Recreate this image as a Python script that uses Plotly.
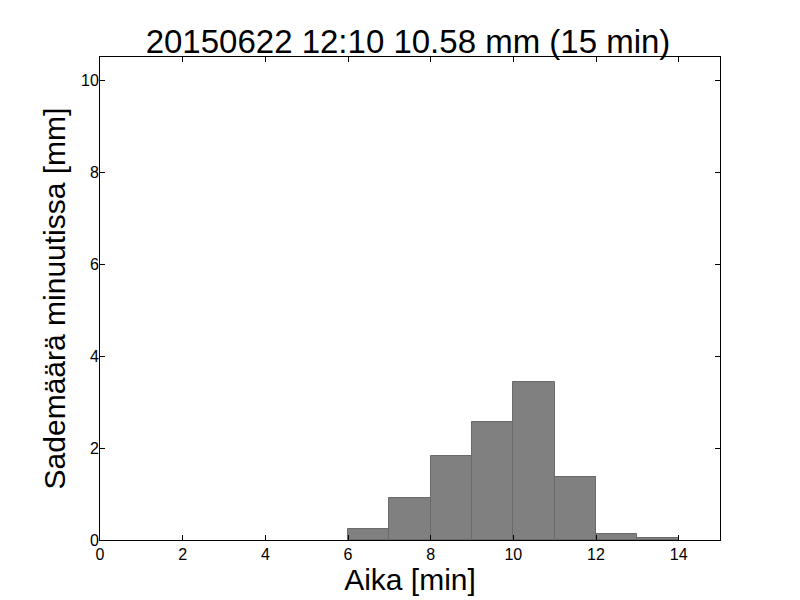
import plotly.graph_objects as go

# ──────────  DATA  ──────────
minute_start = [6, 7, 8, 9, 10, 11, 12, 13]
rain_mm      = [0.24, 0.92, 1.83, 2.57, 3.44, 1.38, 0.13, 0.05]
x_ticks      = [0, 2, 4, 6, 8, 10, 12, 14]
y_ticks      = [0, 2, 4, 6, 8, 10]

TITLE = "20150622 12:10 10.58 mm (15 min)"
FONT  = "Liberation Sans, Arial, sans-serif"

fig = go.Figure(go.Bar(
    x=minute_start, y=rain_mm, width=1, offset=0,
    marker=dict(color="#808080", line=dict(color="#6a6a6a", width=1)),
))

axis_style = dict(
    showline=True, linecolor="black", linewidth=1, mirror="ticks",
    ticks="inside", ticklen=5, tickcolor="black",
    showgrid=False, zeroline=False,
    tickfont=dict(size=16, color="black", family=FONT),
)

fig.update_xaxes(range=[0, 15], tickvals=x_ticks,
                 title=dict(text="Aika [min]", font=dict(size=30, family=FONT, color="black"), standoff=2),
                 **axis_style)
fig.update_yaxes(range=[0, 10.5], tickvals=y_ticks, ticklabelstandoff=-3,
                 title=dict(text="Sademäärä minuutissa [mm]", font=dict(size=30, family=FONT, color="black"), standoff=6),
                 **axis_style)

# page body has an 8px margin, margins below compensate for it
fig.update_layout(
    width=800, height=600,
    title=dict(text=TITLE, x=0.5, xanchor="center", y=0.945, yanchor="middle",
               font=dict(size=33, family=FONT, color="black")),
    paper_bgcolor="white", plot_bgcolor="white",
    margin=dict(l=92, r=88, t=49, b=68),
    showlegend=False, bargap=0,
)

fig.write_html("out.html")
